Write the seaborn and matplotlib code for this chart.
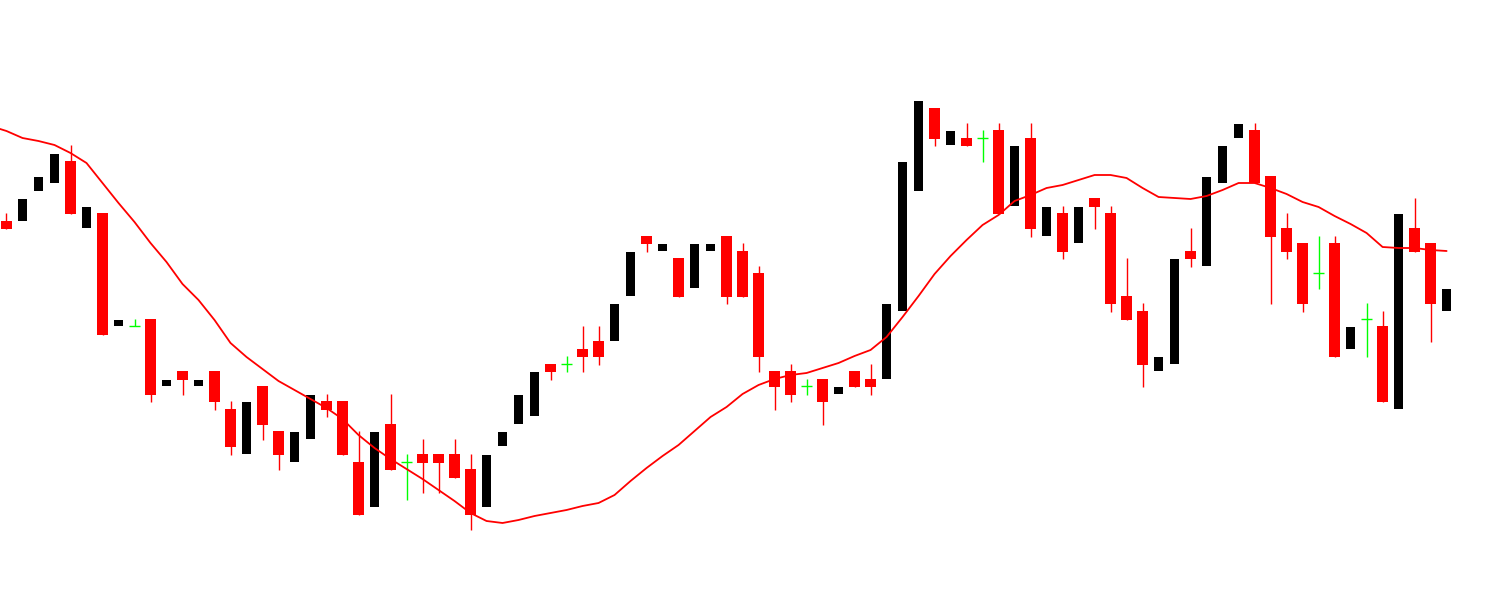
import numpy as np
import pandas as pd
import seaborn as sns
import matplotlib
matplotlib.use("Agg")
import matplotlib.pyplot as plt

# OHLC of the 91 visible bars (chart price units)
opens = [391, 391, 421, 429, 451, 384, 399, 286, 286, 293, 226, 241, 226, 241, 203, 158,
         226, 181, 150, 173, 211, 211, 150, 105, 188, 150, 158, 158, 158, 143, 105, 166,
         188, 196, 248, 248, 263, 271, 271, 316, 376, 361, 354, 324, 361, 376, 361, 339,
         241, 241, 226, 233, 218, 241, 233, 233, 301, 421, 504, 467, 474, 474, 482, 406,
         474, 376, 399, 369, 414, 399, 316, 301, 241, 248, 361, 346, 429, 474, 482, 436,
         384, 369, 339, 369, 263, 293, 286, 203, 384, 369, 301]
highs = [399, 413, 435, 458, 467, 405, 399, 292, 293, 293, 232, 241, 232, 241, 211, 210,
         226, 181, 180, 217, 218, 211, 181, 180, 218, 158, 173, 158, 173, 158, 157, 180,
         217, 240, 248, 256, 286, 286, 308, 360, 376, 368, 354, 368, 368, 376, 369, 346,
         241, 248, 233, 233, 225, 241, 248, 308, 450, 511, 504, 481, 489, 482, 489, 466,
         489, 405, 406, 405, 414, 406, 354, 309, 255, 353, 384, 435, 466, 488, 489, 436,
         399, 369, 376, 376, 285, 309, 301, 398, 414, 369, 323]
lows = [383, 391, 421, 429, 398, 384, 277, 286, 286, 210, 226, 217, 226, 202, 157, 158,
        172, 142, 150, 173, 195, 157, 97, 105, 142, 112, 119, 119, 134, 82, 105, 166,
        188, 196, 232, 240, 240, 247, 271, 316, 360, 361, 315, 324, 361, 308, 315, 240,
        202, 210, 217, 187, 218, 225, 217, 233, 301, 421, 466, 467, 466, 450, 398, 406,
        375, 376, 353, 369, 383, 300, 292, 225, 241, 248, 345, 346, 429, 474, 429, 308,
        353, 300, 323, 255, 263, 255, 210, 203, 360, 270, 301]
closes = [383, 413, 435, 458, 398, 405, 277, 292, 286, 217, 232, 232, 232, 210, 165, 210,
          187, 157, 180, 217, 202, 157, 97, 180, 142, 150, 149, 149, 134, 97, 157, 180,
          217, 240, 240, 248, 255, 255, 308, 360, 368, 368, 315, 368, 368, 315, 315, 255,
          225, 217, 226, 210, 225, 225, 225, 308, 450, 511, 473, 481, 466, 474, 398, 466,
          383, 405, 360, 405, 405, 308, 292, 247, 255, 353, 353, 435, 466, 488, 429, 375,
          360, 308, 339, 255, 285, 293, 210, 398, 360, 308, 323]

# moving average line, starting one bar left of the first visible bar
ma_values = [486, 481, 474, 471, 467, 459, 449, 429, 409, 390, 369, 350, 328, 312, 292, 269,
             255, 243, 231, 222, 213, 204, 193, 177, 164, 153, 143, 133, 122, 111, 99, 91,
             89, 92, 96, 99, 102, 106, 109, 117, 131, 144, 156, 167, 181, 195, 205, 218,
             227, 233, 237, 239, 244, 249, 256, 262, 275, 295, 316, 338, 356, 372, 387, 397,
             411, 417, 424, 427, 432, 437, 437, 434, 424, 415, 414, 413, 416, 422, 429, 429,
             424, 418, 410, 405, 396, 388, 379, 365, 364, 364, 362, 361]

df = pd.DataFrame({"open": opens, "high": highs, "low": lows, "close": closes})
df["bar"] = np.arange(len(df))
ma = pd.DataFrame({"bar": np.arange(-1, len(ma_values) - 1), "ma": ma_values})

up = df[df.close > df.open]
down = df[df.close < df.open]
doji = df[df.close == df.open]

sns.set_style("white")
fig = plt.figure(figsize=(15.09, 6.12), dpi=100)
ax = fig.add_axes([0, 0, 1, 1])

# bearish bars: red wick behind a red body
ax.vlines(down.bar, down.low, down.high, color="#ff0000", lw=1.0, zorder=0.5)
ax.bar(down.bar, down.open - down.close, bottom=down.close, width=0.7,
       color="#ff0000", linewidth=0, zorder=1)

# bullish bars: black body only
ax.bar(up.bar, up.close - up.open, bottom=up.open, width=0.57,
       color="#000000", linewidth=0, zorder=1)

# doji: green cross
ax.vlines(doji.bar, doji.low, doji.high, color="#00ff00", lw=1.0)
ax.hlines(doji.open, doji.bar - 0.35, doji.bar + 0.35, color="#00ff00", lw=1.0)

sns.lineplot(data=ma, x="bar", y="ma", color="#ff0000", lw=1.3, ax=ax, zorder=5)

ax.set_xlim(-0.406, 93.9)
ax.set_ylim(0, 612)
ax.axis("off")

fig.savefig("out.png", dpi=100, facecolor="white")
